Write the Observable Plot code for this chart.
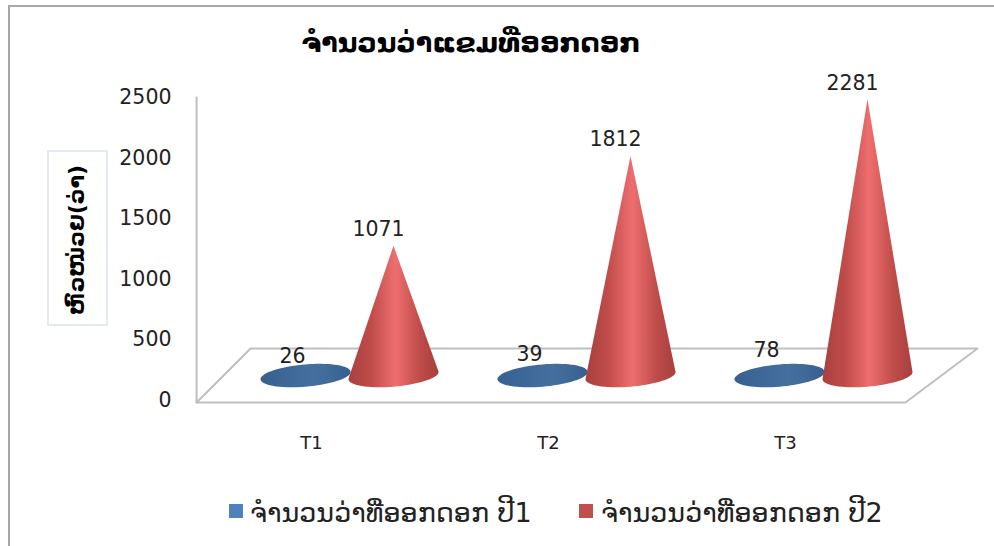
<!DOCTYPE html>
<html><head><meta charset="utf-8">
<script src="https://cdn.jsdelivr.net/npm/d3@7"></script>
<script src="https://cdn.jsdelivr.net/npm/@observablehq/plot@0.6"></script>
<style>
body{margin:0;background:#fff;width:994px;height:546px;overflow:hidden;position:relative;font-family:"DejaVu Sans",sans-serif}
#frame{position:absolute;left:8px;top:5px;width:986px;height:541px;border-left:2px solid #a6a6a6;border-top:2px solid #a6a6a6;box-sizing:border-box}
#title{position:absolute;left:0;width:942px;top:27px;text-align:center;font-weight:bold;font-size:27px;color:#000}
#chart{position:absolute;left:0;top:58px}
#legend{position:absolute;top:497px;left:0;width:994px;height:34px;font-size:27px;color:#222}
#legend span{position:absolute;white-space:nowrap}
#legend i{position:absolute;width:14px;height:14px;top:7px}
</style></head><body>
<div id="frame"></div>
<div id="title"></div>
<div id="chart"></div>
<div id="legend"></div>
<script>
const categories = ["T1","T2","T3"];
const series1 = [26,39,78];
const series2 = [1071,1812,2281];
const seriesNames = ["ຈຳນວນວ່າທີ່ອອກດອກ ປີ1","ຈຳນວນວ່າທີ່ອອກດອກ ປີ2"];
const titleText = "ຈຳນວນວ່າແຂມທີ່ອອກດອກ";
const axisTitle = "ຫົວໜ່ວຍ(ວ່າ)";
const yTicks = [0,500,1000,1500,2000,2500];
const colors = ["#4f81bd","#c0504d"];

document.getElementById("title").textContent = titleText;
const lg = document.getElementById("legend");
[[229,250],[579,601]].forEach(([a,b],i)=>{
  const sw=document.createElement("i");sw.style.left=a+"px";sw.style.background=colors[i];lg.append(sw);
  const s=document.createElement("span");s.style.left=b+"px";s.textContent=seriesNames[i];lg.append(s);
});

// floor plane and wall, in scale units (category position, value)
const floorX = [-0.485,2.506,2.81,-0.257,-0.485];
const floorV = [-16,-16,429,429,-16];
const wallX = [-0.485,-0.485];
const wallV = [-16,2500];

// 3D look: the base of every cone sits in the depth of the floor
const baseV = 206, rx = 0.19, ry = 92, tilt = 30, offsets = [-0.025,0.346];
const rows = [];
[series1,series2].forEach((vals,s)=>vals.forEach((v,c)=>rows.push({s,c,v,cx:c+offsets[s]})));
const cones = rows.flatMap(r=>{
  const pts = d3.range(0,72).map(k=>{const t=k/72*2*Math.PI;return [r.cx+rx*Math.cos(t),baseV+ry*Math.sin(t)+tilt*Math.cos(t)];});
  pts.push([r.cx,baseV+r.v]);
  return d3.polygonHull(pts.map(p=>[p[0]*2000,p[1]])).map(p=>({key:r.s+"-"+r.c,s:r.s,x:p[0]/2000,y:p[1]}));
});

const gradients = () => {
  const ns="http://www.w3.org/2000/svg";
  const defs=document.createElementNS(ns,"defs");
  defs.innerHTML=`
  <linearGradient id="redCone" x1="0" x2="1" y1="0" y2="0">
    <stop offset="0" stop-color="#a8403e"/><stop offset="0.25" stop-color="#bf4c4a"/>
    <stop offset="0.52" stop-color="#ee6e6e"/><stop offset="0.8" stop-color="#bd4b49"/><stop offset="1" stop-color="#a8403e"/>
  </linearGradient>
  <linearGradient id="blueCone" x1="0" x2="1" y1="0" y2="0">
    <stop offset="0" stop-color="#37608f"/><stop offset="0.6" stop-color="#44709f"/><stop offset="1" stop-color="#37608f"/>
  </linearGradient>`;
  return defs;
};

const lineColor="#bfbfbf";
const plot = Plot.plot({
  width:994,height:430,
  marginLeft:196,marginRight:0,marginTop:39,marginBottom:88,
  style:{background:"transparent",overflow:"visible",fontFamily:"DejaVu Sans"},
  x:{domain:[0,2],range:[311,785]},
  y:{domain:[0,2500],range:[342,39]},
  marks:[
    gradients,
    Plot.line(floorX.map((x,i)=>({x,y:floorV[i]})),{x:"x",y:"y",stroke:lineColor,strokeWidth:2}),
    Plot.line(wallX.map((x,i)=>({x,y:wallV[i]})),{x:"x",y:"y",stroke:lineColor,strokeWidth:2}),
    Plot.axisY({ticks:yTicks,tickFormat:"d",tickSize:0,tickPadding:25,label:null,fontSize:20.5,color:"#222"}),
    Plot.axisX({ticks:[0,1,2],tickFormat:i=>categories[i],tickSize:0,tickPadding:36,label:null,fontSize:18,color:"#222"}),
    Plot.line(cones,{x:"x",y:"y",z:"key",fill:d=>d.s?"url(#redCone)":"url(#blueCone)",stroke:"none",curve:"linear-closed"}),
    Plot.text(rows.filter(r=>r.s===0),{x:"cx",y:r=>baseV+r.v,text:r=>String(r.v),dy:-16,dx:-13,fontSize:20.5,fill:"#222"}),
    Plot.text(rows.filter(r=>r.s===1),{x:"cx",y:r=>baseV+r.v,text:r=>String(r.v),dy:-16,dx:-15,fontSize:20.5,fill:"#222"})
  ]
});
document.getElementById("chart").append(plot);

// y-axis title in its box
const box=d3.select(plot).append("g");
box.append("rect").attr("x",48).attr("y",93).attr("width",59).attr("height",174).attr("fill","#fff").attr("stroke","#dbe3f0").attr("stroke-width",1.5);
box.append("text").attr("transform","translate(78,182) rotate(-90)").attr("text-anchor","middle").attr("dominant-baseline","middle").attr("font-size",22).attr("font-weight","bold").attr("fill","#000").text(axisTitle);
</script>
</body></html>
